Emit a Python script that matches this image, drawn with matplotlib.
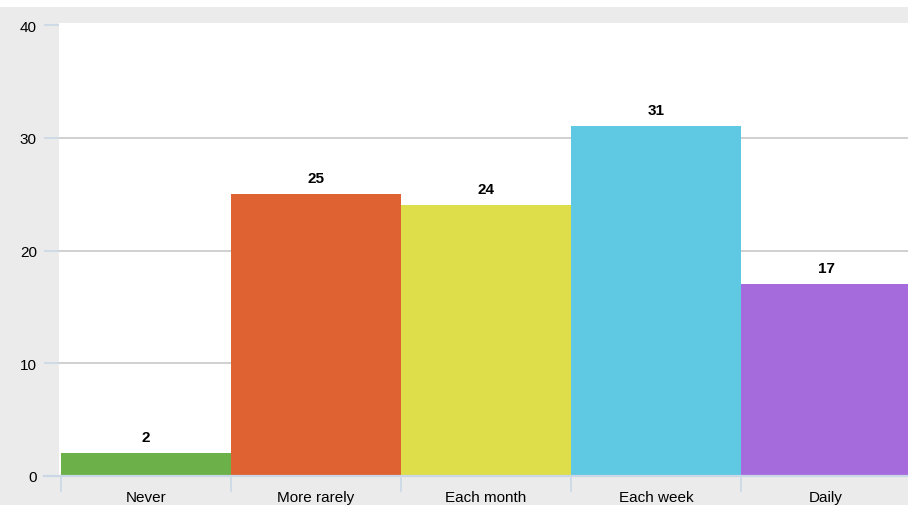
import matplotlib.pyplot as plt
from matplotlib.patches import Rectangle

# Survey answers: how often
categories = ["Never", "More rarely", "Each month", "Each week", "Daily"]
counts = [2, 25, 24, 31, 17]
bar_colors = ["#6bb048", "#df6233", "#dede4a", "#5fc8e3", "#a56bdd"]
y_ticks = [0, 10, 20, 30, 40]

W, H = 908, 506
fig = plt.figure(figsize=(W / 100, H / 100), dpi=100)
fig.patch.set_facecolor("#ebebeb")
# white strip along the top edge
fig.add_artist(Rectangle((0, 1 - 8 / H), 1, 8 / H, transform=fig.transFigure,
                         facecolor="white", edgecolor="none"))

left, right, top, bottom = 59, 908, 24, 477
ax = fig.add_axes([left / W, 1 - bottom / H, (right - left) / W, (bottom - top) / H])
ax.set_facecolor("white")

x = list(range(len(categories)))
ax.bar(x, counts, width=1.0, color=bar_colors, edgecolor="none", zorder=2)

for xi, v in zip(x, counts):
    ax.annotate(str(v), (xi, v), xytext=(0, 6.5), textcoords="offset points",
                ha="center", va="bottom", fontsize=11, fontweight="bold",
                family="Liberation Sans", zorder=3)

ax.set_xlim(-0.512, 4.482)
ax.set_ylim(0, 40.18)

for s in ax.spines.values():
    s.set_visible(False)

# horizontal grid
for t in y_ticks[1:-1]:
    ax.axhline(t, color="#c8c8c8", lw=1.2, zorder=1)

# y tick marks and labels
ax.set_yticks(y_ticks)
ax.set_yticklabels([str(t) for t in y_ticks], fontsize=11, family="Liberation Sans")
ax.tick_params(axis="y", length=11, width=1.2, color="#c9d7e6", pad=5)

# category labels
ax.set_xticks(x)
ax.set_xticklabels(categories, fontsize=11, family="Liberation Sans")
ax.tick_params(axis="x", length=0, pad=10)

# bottom axis line and separators between categories
ax.plot([-0.6, 4.482], [0, 0], color="#c9d7e6", lw=1.6, clip_on=False, zorder=4)
for b in [-0.5, 0.5, 1.5, 2.5, 3.5]:
    ax.plot([b, b], [-0.15, -1.3], color="#c9d7e6", lw=1.2, clip_on=False, zorder=4)

fig.savefig("out.png", dpi=100, facecolor=fig.get_facecolor())
